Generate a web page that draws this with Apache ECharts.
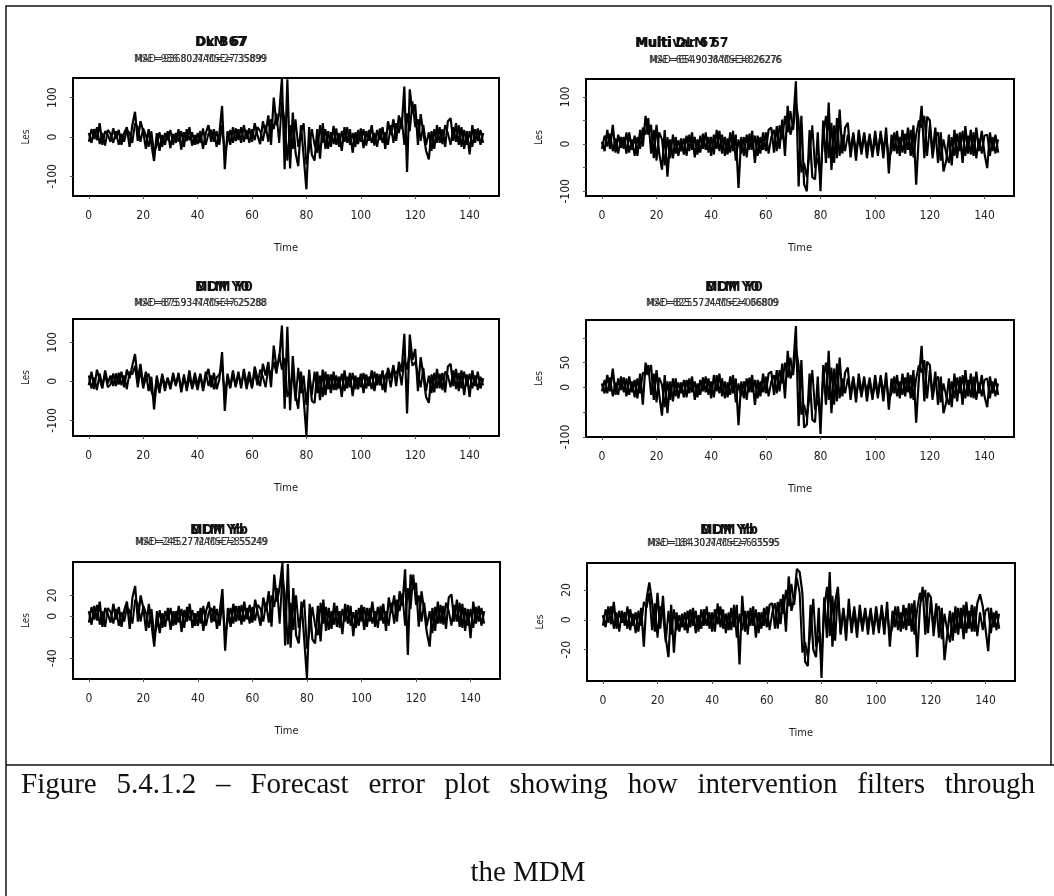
<!DOCTYPE html>
<html>
<head>
<meta charset="utf-8">
<script src="https://cdn.jsdelivr.net/npm/echarts@6/dist/echarts.min.js"></script>
<style>
  html, body { margin: 0; padding: 0; background: #fff; }
  #chart { width: 1054px; height: 896px; }
</style>
</head>
<body>
<div id="chart"></div>
<script>
// Forecast errors, time 0..145: two overlaid error series per panel
const errDLM = [
  10, -15, 20, -8, 35, -20, 15, 5, -12, 22,
  -5, 18, -20, 10, 25, -25, 30, 64, -10, 40,
  15, -30, 20, -18, -61, 10, -35, 5, -20, 15,
  -28, 8, -15, 20, -32, 12, -10, 25, -22, 5,
  -18, 15, -30, 10, 30, -12, 20, -25, 8, 79,
  -82, 15, -20, 25, -10, 20, -15, 30, -5, 22,
  -12, 35, 5, -18, 40, 10, 55, -20, 100, 30,
  60, 150, -82, 147, -80, 62, -40, -74, 30, -50,
  -133, 25, -45, -60, 20, -55, 35, -30, 15, -25,
  28, -20, 10, -35, 25, -15, 20, -40, 12, -18,
  22, -28, 15, -10, 30, -22, 18, -8, 25, -30,
  40, 5, 45, -10, 55, 20, 128, -89, 121, 60,
  83, -20, 58, 10, -35, -57, 15, -30, 30, -15,
  20, -25, 40, 48, -10, 35, -20, 25, -30, 15,
  -44, 30, -15, 22, -20, 10
];
const errDLM2 = [
  -12, 20, -5, 25, -18, 10, -22, 18, 8, -15,
  15, -20, 8, -12, 18, 10, -15, 35, 25, -12,
  22, 5, -25, 15, -40, -20, 12, -25, 10, -8,
  18, -20, 10, -12, 15, -25, 20, -8, 12, -20,
  10, -15, 22, -20, 8, 18, -12, 15, -20, 30,
  -40, -10, 18, -15, 22, -8, 25, -12, 18, -15,
  20, -8, 25, 15, -10, 30, -12, 45, 20, 60,
  -15, 90, 40, -60, 30, -30, 45, -25, 10, 35,
  -70, -30, 20, -20, -40, 30, -15, 20, -30, 12,
  -18, 22, -25, 15, -12, 25, -20, 10, -25, 18,
  -12, 20, -22, 18, -15, 10, -25, 22, -15, 12,
  -20, 30, -15, 35, 10, 50, -20, 60, 15, 90,
  25, 45, -10, 30, -20, 12, -35, 20, -15, 25,
  -18, 30, 10, -20, 25, -12, 30, -25, 18, -20,
  15, -25, 20, -10, 18, -15
];
const errMulti = [
  5, -15, 30, -10, 41, -18, 20, -8, 15, -20,
  25, -12, 18, -25, 30, -5, 60, 20, 41, -30,
  41, -20, -54, 30, -69, 10, -30, 15, -25, 12,
  -22, 18, -15, 25, -28, 10, -18, 22, -12, 15,
  -25, 20, -10, 28, -20, 15, -22, 25, -15, 20,
  -93, 15, -25, 20, -12, 28, -40, 18, -20, 25,
  -15, 30, 35, -18, 38, -10, 52, -25, 81, 20,
  45, 133, -90, 60, -85, -100, 30, -70, -75, 25,
  -100, 50, -40, 88, -55, 40, -30, 73, -20, 35,
  45, -28, 20, -35, 30, -15, 25, -30, 18, -22,
  28, -18, 22, -30, 35, -62, 20, -15, 28, -25,
  30, -20, 35, -25, 40, -86, 20, 81, -30, 58,
  50, -20, 35, -40, 25, -58, -35, 20, -45, 30,
  -30, 25, -40, 38, -20, 30, -25, 35, -15, 28,
  -20, -51, 25, -15, 20, -18
];
const errMulti2 = [
  -10, 18, -5, 22, -15, 12, -20, 15, -10, 25,
  -18, 10, -25, 15, -10, 35, 20, 55, -20, 30,
  -35, 25, 10, -45, 15, -30, 20, -20, 8, -15,
  12, -25, 20, -12, 15, -22, 18, -10, 25, -18,
  15, -22, 30, -15, 20, -25, 12, -18, 28, -35,
  10, -20, 15, -28, 22, -12, 18, -25, 15, -12,
  25, -20, 15, 30, -15, 40, 10, 60, 25, 70,
  30, 90, 50, -60, -40, -70, -20, 40, -50, -30,
  -70, 20, 60, -30, 45, -40, 55, -25, 20, -15,
  20, -12, 25, -18, 15, -22, 18, -10, 22, -28,
  15, -25, 28, -12, 20, -30, -15, 25, -20, 15,
  -18, 22, -12, 30, -28, 20, 50, 35, 60, -25,
  40, -30, 15, 25, -35, 10, -20, -40, 15, -25,
  22, -15, 28, -25, 18, -22, 25, -30, 12, -20,
  18, 20, -25, 15, -20, 10
];
const errDLM0 = [
  -10, 25, -20, 30, 5, -18, 28, -5, 15, -12,
  20, -8, 25, -15, 30, 8, 40, 70, 5, 45,
  -10, 25, -25, 12, -72, 5, -30, 15, -25, 10,
  -20, 15, -12, 22, -28, 10, -15, 28, -20, 8,
  -22, 18, -25, 12, 32, -15, 22, -20, 5, 75,
  -76, 20, -15, 28, -12, 25, -18, 32, -8, 25,
  -15, 38, 8, -12, 45, 15, 50, -15, 92, 35,
  55, 143, -70, 140, -74, 65, -35, -70, 25, -45,
  -138, 30, -50, -55, 25, -48, 30, -35, 18, -30,
  25, -22, 12, -40, 28, -18, 22, -38, 15, -20,
  20, -30, 18, -12, 28, -25, 20, -10, 28, -28,
  35, 8, 42, -12, 50, 25, 122, -82, 120, 55,
  83, -25, 62, 15, -40, -55, 18, -28, 32, -18,
  22, -28, 38, 45, -12, 32, -25, 28, -35, 18,
  -40, 28, -12, 25, -18, 8
];
const errDLM02 = [
  15, -18, 10, -22, 20, -10, 18, -15, -8, 20,
  -12, 22, -10, 15, -20, 25, 18, 40, -15, 30,
  -18, 10, 20, -25, -45, 15, -22, 20, -12, 8,
  -15, 22, -8, 15, -20, 18, -25, 10, -12, 22,
  -10, 20, -18, 25, -12, 15, -20, 10, 18, 40,
  -35, 12, -18, 20, -15, 18, -10, 22, -20, 12,
  -18, 25, -10, 30, 12, -15, 35, 15, 50, 20,
  70, 30, 60, -40, -20, 25, -50, 35, -30, 15,
  -60, 20, -35, 25, -30, 15, -40, 25, -20, 18,
  -22, 15, -18, 20, -25, 12, -15, 22, -20, 10,
  -15, 22, -18, 12, -20, 25, -10, 18, -22, 15,
  25, -15, 30, 20, 35, -10, 60, 30, 80, 40,
  50, 20, -15, 35, -25, 15, -30, 22, -18, 20,
  -22, 25, 15, -15, 28, -20, 22, -18, 25, -12,
  20, -18, 15, -22, 12, -10
];
const errMDM0 = [
  8, -12, 25, -8, 38, -15, 18, -5, 20, -18,
  22, -10, 15, -22, 28, -35, 50, 25, 45, -25,
  35, -15, -57, 25, -52, 12, -28, 18, -22, 10,
  -20, 15, -12, 22, -25, 8, -15, 20, -10, 18,
  -22, 25, -8, 28, -18, 12, -20, 22, -12, 18,
  -76, 12, -22, 18, -10, 25, -35, 15, -18, 28,
  -12, 28, 32, -15, 35, -8, 48, -22, 74, 18,
  40, 124, -78, 55, -81, -75, 28, -65, -70, 22,
  -94, 45, -35, 74, -52, 38, -28, 60, -18, 30,
  40, -25, 18, -30, 28, -12, 22, -28, 15, -20,
  25, -15, 20, -28, 30, -45, 18, -12, 25, -22,
  28, -18, 30, -22, 35, -71, 18, 84, -28, 52,
  45, -18, 32, -35, 22, -52, -30, 18, -40, 28,
  -28, 22, -35, 35, -18, 28, -22, 32, -12, 25,
  -18, -40, 22, -12, 18, -15
];
const errMDM02 = [
  -8, 15, -12, 20, -18, 10, -15, 22, -10, 18,
  -15, 12, -20, 18, -12, 30, 25, 45, -15, 28,
  -30, 20, 5, -40, 12, -25, 18, -18, 10, -12,
  15, -20, 18, -10, 12, -20, 15, -8, 22, -15,
  12, -20, 25, -12, 18, -22, 10, -15, 25, -30,
  8, -18, 12, -25, 20, -10, 15, -22, 12, -10,
  22, -18, 12, 25, -12, 35, 8, 50, 20, 60,
  25, 80, 45, -55, -35, -60, -18, 35, -45, -25,
  -60, 18, 50, -25, 40, -35, 48, -22, 18, -12,
  18, -10, 22, -15, 12, -20, 15, -8, 20, -25,
  12, -22, 25, -10, 18, -25, -12, 22, -18, 12,
  -15, 20, -10, 25, -25, 18, 45, 30, 55, -22,
  35, -25, 12, 22, -30, 8, -18, -35, 12, -22,
  20, -12, 25, -22, 15, -20, 22, -25, 10, -18,
  15, 18, -22, 12, -18, 8
];
const errDLMb = [
  5, -8, 10, -4, 14, -10, 8, 2, -6, 12,
  -3, 9, -10, 6, 14, -12, 18, 29, -5, 20,
  8, -14, 12, -8, -29, 5, -16, 3, -10, 8,
  -13, 5, -8, 10, -15, 6, -5, 12, -11, 3,
  -9, 8, -14, 5, 14, -6, 10, -12, 4, 26,
  -33, 8, -10, 12, -5, 10, -8, 14, -3, 11,
  -6, 16, 3, -9, 18, 5, 24, -10, 40, 14,
  28, 51, -28, 50, -30, 27, -18, -26, 14, -22,
  -59, 12, -22, -26, 10, -24, 16, -14, 8, -12,
  13, -10, 5, -17, 12, -7, 10, -19, 6, -9,
  11, -13, 8, -5, 14, -10, 9, -4, 12, -14,
  18, 3, 20, -5, 24, 10, 45, -37, 40, 26,
  32, -10, 24, 5, -16, -29, 8, -14, 14, -7,
  10, -12, 18, 21, -5, 16, -10, 12, -14, 7,
  -21, 14, -7, 10, -9, 5
];
const errDLMb2 = [
  -6, 9, -3, 11, -8, 5, -10, 8, 4, -7,
  7, -9, 4, -5, 9, 5, -7, 16, 12, -5,
  10, 3, -11, 7, -18, -9, 6, -11, 5, -4,
  8, -9, 5, -6, 7, -11, 9, -4, 6, -9,
  5, -7, 10, -9, 4, 8, -5, 7, -9, 14,
  -18, -4, 8, -7, 10, -4, 11, -5, 8, -7,
  9, -4, 11, 7, -5, 13, -6, 20, 9, 27,
  -7, 40, 18, -27, 13, -13, 20, -11, 5, 16,
  -31, -13, 9, -9, -18, 13, -7, 9, -13, 5,
  -8, 10, -11, 7, -5, 11, -9, 4, -11, 8,
  -5, 9, -10, 8, -7, 5, -11, 10, -7, 5,
  -9, 13, -7, 16, 5, 22, -9, 27, 7, 40,
  11, 20, -5, 13, -9, 5, -16, 9, -7, 11,
  -8, 13, 5, -9, 11, -5, 13, -11, 8, -9,
  7, -11, 9, -5, 8, -7
];
const errMDMb = [
  3, -5, 9, -3, 12, -6, 6, -2, 5, -6,
  7, -4, 5, -8, 8, -18, 14, 25, 12, -8,
  18, -6, 16, -12, -25, 10, -22, 5, -8, 4,
  -7, 6, -5, 8, -9, 3, -6, 7, -4, 5,
  -8, 7, -3, 9, -6, 4, -7, 8, -5, 10,
  -30, 16, -8, 6, -4, 9, -12, 5, -6, 8,
  -5, 10, 11, -6, 12, -3, 17, -8, 29, 6,
  14, 34, 32, 18, -28, -31, 10, -20, -25, 8,
  -39, 15, -12, 32, -18, 12, 22, -10, 8, -14,
  14, -9, 6, -12, 10, -5, 8, -10, 6, -7,
  9, -6, 7, -10, 12, -18, 6, -5, 9, -8,
  10, -7, 11, -8, 13, -25, 8, 22, -10, 18,
  15, -6, 11, -12, 8, -27, -10, 6, -14, 9,
  -10, 8, -13, 12, -6, 10, -8, 11, 17, 9,
  -6, -21, 8, -5, 6, -6
];
const errMDMb2 = [
  -4, 7, -2, 9, -6, 5, -8, 6, -4, 9,
  -7, 4, -9, 6, -4, 12, 8, 18, -7, 11,
  -12, 9, 4, -15, 6, -10, 7, -7, 3, -5,
  5, -9, 7, -4, 6, -8, 7, -4, 9, -6,
  5, -8, 11, -5, 7, -9, 5, -7, 10, -12,
  4, -7, 6, -10, 8, -4, 7, -9, 5, -4,
  9, -7, 5, 11, -6, 14, 4, 20, 9, 24,
  10, 28, 18, -22, -15, -25, -7, 14, -18, -11,
  -25, 8, 22, -11, 16, -14, 19, -9, 7, -5,
  7, -4, 9, -6, 5, -8, 6, -4, 8, -10,
  5, -9, 10, -4, 7, -11, -5, 9, -7, 5,
  -6, 8, -4, 11, -10, 7, 18, 13, 20, -9,
  14, -11, 6, 9, -13, 4, -7, -15, 5, -9,
  8, -6, 10, -9, 6, -8, 9, -11, 5, -7,
  6, 8, -9, 5, -7, 4
];

// Axis ticks and labels
const xTicks = [0, 20, 40, 60, 80, 100, 120, 140];
const yTicks = [
  [-100, 0, 100],
  [-100, -50, 0, 50, 100],
  [-100, 0, 100],
  [-100, -50, 0, 50, 100],
  [-40, -20, 0, 20],
  [-20, 0, 20]
];
const yLabels = [
  [-100, 0, 100],
  [-100, 0, 100],
  [-100, 0, 100],
  [-100, 0, 50],
  [-40, 0, 20],
  [-20, 0, 20]
];
const yRanges = [[-150, 150], [-110, 138], [-140, 160], [-100, 136], [-60, 52], [-41, 38]];
const panelTitles = [
  ['DLM 67', 'Dx B67'], ['Multi DLM 67', 'Multivar 67'],
  ['MDM Y0', 'DLM Y0'], ['MDM Y0', 'DLM Y0'],
  ['MDM Yb', 'DLM Yb'], ['MDM Yb', 'DLM Yb']
];
const panelSubtitles = [
  ['MSE=936.80 MAD=27.35899', 'MAD=9368027 MSE=735899'],
  ['MSE=654.90 MAD=38.26276', 'MAD=6549038 MSE=826276'],
  ['MSE=875.93 MAD=47.25288', 'MAD=8759347 MSE=625288'],
  ['MSE=825.57 MAD=24.06809', 'MAD=8255724 MSE=066809'],
  ['MSE=245.27 MAD=72.55249', 'MAD=2452772 MSE=855249'],
  ['MSE=184.30 MAD=27.63595', 'MAD=1843027 MSE=635595']
];
const seriesValues = [
  [errDLM, errDLM2], [errMulti, errMulti2],
  [errDLM0, errDLM02], [errMDM0, errMDM02],
  [errDLMb, errDLMb2], [errMDMb, errMDMb2]
];
const xName = 'Time';
const yName = 'Les';
const captionLines = [
  'Figure 5.4.1.2 \u2013 Forecast error plot showing how intervention filters through',
  'the MDM'
];

// Panel boxes (px) and title anchors
const boxes = [
  { left: 73, top: 78, width: 426, height: 118 },
  { left: 586, top: 79, width: 428, height: 117 },
  { left: 73, top: 319, width: 426, height: 117 },
  { left: 586, top: 320, width: 428, height: 117 },
  { left: 73, top: 562, width: 427, height: 117 },
  { left: 587, top: 563, width: 428, height: 118 }
];
const titlePos = [
  { tx: 195, ty: 35, sx: 134, sy: 54 },
  { tx: 635, ty: 36, sx: 649, sy: 55 },
  { tx: 195, ty: 280, sx: 134, sy: 298 },
  { tx: 705, ty: 280, sx: 646, sy: 298 },
  { tx: 190, ty: 523, sx: 135, sy: 537 },
  { tx: 700, ty: 523, sx: 647, sy: 538 }
];

const NARROW = "'Liberation Sans Narrow', 'DejaVu Sans Condensed', 'Liberation Sans', sans-serif";
const SERIF = "29px 'Liberation Serif', 'DejaVu Serif', serif";

const chart = echarts.init(document.getElementById('chart'), null, { renderer: 'canvas' });

const grids = [], xAxes = [], yAxes = [], series = [], titles = [];
boxes.forEach((b, i) => {
  grids.push({
    left: b.left, top: b.top, width: b.width, height: b.height,
    show: true, borderColor: '#000', borderWidth: 2, backgroundColor: 'transparent'
  });
  xAxes.push({
    type: 'value', gridIndex: i, min: -5.8, max: 150.8,
    name: xName, nameLocation: 'middle', nameGap: 47,
    nameTextStyle: { fontFamily: NARROW, fontSize: 11, color: '#222' },
    axisLine: { show: false, onZero: false },
    splitLine: { show: false },
    axisTick: { show: true, length: 3, customValues: xTicks, lineStyle: { color: '#555' } },
    axisLabel: { customValues: xTicks, margin: 14, fontFamily: NARROW, fontSize: 12, color: '#222' }
  });
  yAxes.push({
    type: 'value', gridIndex: i, min: yRanges[i][0], max: yRanges[i][1],
    name: yName, nameLocation: 'middle', nameGap: 42, nameRotate: 90,
    nameTextStyle: { fontFamily: NARROW, fontSize: 10, color: '#222' },
    axisLine: { show: false, onZero: false },
    splitLine: { show: false },
    axisTick: { show: true, length: 3, customValues: yTicks[i], lineStyle: { color: '#555' } },
    axisLabel: { customValues: yLabels[i], rotate: 90, margin: 14, fontFamily: NARROW, fontSize: 12, color: '#222' }
  });
  seriesValues[i].forEach((vals, k) => {
    series.push({
      type: 'line', xAxisIndex: i, yAxisIndex: i,
      data: vals.map((v, t) => [t, v]),
      showSymbol: false, symbol: 'none',
      lineStyle: { color: '#000', width: k === 0 ? 2.2 : 2 },
      clip: true, animation: false, silent: true, z: 2 + k
    });
  });
  const p = titlePos[i];
  panelTitles[i].forEach((txt, k) => {
    titles.push({
      text: txt, left: p.tx + k, top: p.ty,
      textStyle: { fontFamily: NARROW, fontSize: 14, fontWeight: 'bold', color: '#111' },
      padding: 0
    });
  });
  panelSubtitles[i].forEach((txt, k) => {
    titles.push({
      text: txt, left: p.sx + k, top: p.sy,
      textStyle: { fontFamily: NARROW, fontSize: 10, fontWeight: 'normal', color: '#333' },
      padding: 0
    });
  });
});

// Justified first caption line: words spread between the two text margins
function justifiedWords(line, x0, x1, y) {
  const ctx = document.createElement('canvas').getContext('2d');
  ctx.font = SERIF;
  const words = line.split(' ');
  const widths = words.map(w => ctx.measureText(w).width);
  const total = widths.reduce((a, b) => a + b, 0);
  const gap = (x1 - x0 - total) / (words.length - 1);
  let x = x0;
  return words.map((w, j) => {
    const el = { type: 'text', x: x, y: y, style: { text: w, font: SERIF, fill: '#111', textAlign: 'left', textVerticalAlign: 'middle' } };
    x += widths[j] + gap;
    return el;
  });
}

// Figure frame and caption
const frame = [
  { type: 'polyline', shape: { points: [[6, 896], [6, 6], [1051, 6], [1051, 765]] }, style: { stroke: '#111', lineWidth: 1.5, fill: null } },
  { type: 'line', shape: { x1: 6, y1: 765, x2: 1054, y2: 765 }, style: { stroke: '#111', lineWidth: 1.5 } },
  ...justifiedWords(captionLines[0], 21, 1035, 785),
  { type: 'text', x: 528, y: 873, style: { text: captionLines[1], font: SERIF, fill: '#111', textAlign: 'center', textVerticalAlign: 'middle' } }
];

chart.setOption({
  animation: false,
  backgroundColor: '#fff',
  title: titles,
  grid: grids,
  xAxis: xAxes,
  yAxis: yAxes,
  series: series,
  graphic: frame
});
</script>
</body>
</html>
